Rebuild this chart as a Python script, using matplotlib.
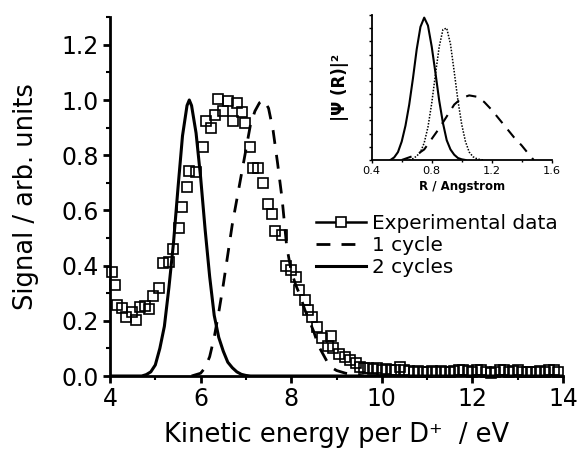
import matplotlib.pyplot as plt
from matplotlib.lines import Line2D
from matplotlib.ticker import MultipleLocator

# measured D+ kinetic energy spectrum
exp_energy = [4.04, 4.11, 4.15, 4.27, 4.35, 4.48, 4.57, 4.66, 4.77, 4.87,
              4.96, 5.08, 5.16, 5.31, 5.38, 5.53, 5.60, 5.69, 5.75, 5.89,
              6.05, 6.12, 6.22, 6.31, 6.39, 6.50, 6.61, 6.71, 6.81, 6.91,
              6.99, 7.10, 7.15, 7.27, 7.38, 7.48, 7.58, 7.64, 7.79, 7.89,
              7.99, 8.11, 8.18, 8.30, 8.38, 8.47, 8.56, 8.69, 8.82, 8.87,
              8.93, 9.06, 9.19, 9.30, 9.42, 9.52, 9.6, 9.7, 9.8, 9.9,
              10.0, 10.1, 10.2, 10.3, 10.4, 10.5, 10.6, 10.7, 10.8, 10.9,
              11.0, 11.1, 11.2, 11.3, 11.4, 11.5, 11.6, 11.7, 11.8, 11.9,
              12.0, 12.1, 12.2, 12.3, 12.4, 12.5, 12.6, 12.7, 12.8, 12.9,
              13.0, 13.1, 13.2, 13.3, 13.4, 13.5, 13.6, 13.7, 13.8, 13.9]
exp_signal = [0.378, 0.33, 0.257, 0.245, 0.212, 0.233, 0.203, 0.249, 0.255, 0.242,
              0.29, 0.318, 0.408, 0.414, 0.459, 0.535, 0.612, 0.683, 0.744, 0.74,
              0.828, 0.925, 0.897, 0.947, 1.003, 0.96, 0.998, 0.923, 0.99, 0.955,
              0.917, 0.83, 0.752, 0.752, 0.70, 0.625, 0.586, 0.527, 0.51, 0.40,
              0.384, 0.36, 0.31, 0.275, 0.239, 0.212, 0.176, 0.136, 0.109, 0.146,
              0.10, 0.08, 0.07, 0.058, 0.046, 0.034, 0.03, 0.028, 0.025, 0.028,
              0.022, 0.025, 0.02, 0.022, 0.034, 0.02, 0.018, 0.015, 0.018, 0.016,
              0.015, 0.017, 0.015, 0.018, 0.016, 0.014, 0.017, 0.02, 0.022, 0.018,
              0.015, 0.022, 0.02, 0.015, 0.012, 0.015, 0.022, 0.02, 0.015, 0.017,
              0.02, 0.015, 0.013, 0.016, 0.015, 0.018, 0.014, 0.022, 0.02, 0.015]

# simulated spectra
one_energy = [5.8, 5.9, 6.0, 6.1, 6.2, 6.3, 6.4, 6.5, 6.6, 6.7, 6.8, 6.9,
              7.0, 7.1, 7.2, 7.3, 7.4, 7.5, 7.6, 7.7, 7.8, 7.9, 8.0, 8.1,
              8.2, 8.3, 8.4, 8.5, 8.6, 8.7, 8.8, 8.9, 9.0, 9.2, 9.4, 9.6]
one_signal = [0.0, 0.005, 0.01, 0.03, 0.07, 0.14, 0.23, 0.33, 0.44, 0.55, 0.64, 0.73,
              0.82, 0.91, 0.96, 0.99, 1.0, 0.97, 0.89, 0.77, 0.64, 0.47, 0.38, 0.33,
              0.29, 0.24, 0.20, 0.16, 0.11, 0.08, 0.05, 0.03, 0.02, 0.01, 0.005, 0.0]

two_energy = [4.0, 4.7, 4.8, 4.9, 5.0, 5.1, 5.2, 5.3, 5.4, 5.5, 5.6, 5.7, 5.75,
              5.8, 5.9, 6.0, 6.1, 6.2, 6.3, 6.4, 6.5, 6.6, 6.7, 6.8, 6.9,
              7.0, 7.1, 14.0]
two_signal = [0.0, 0.0, 0.005, 0.015, 0.04, 0.10, 0.18, 0.32, 0.48, 0.68, 0.87, 0.98, 1.0,
              0.98, 0.88, 0.72, 0.53, 0.36, 0.22, 0.14, 0.09, 0.05, 0.03, 0.015, 0.006,
              0.002, 0.0, 0.0]

# |Psi(R)|^2 distributions for the inset
r_two = [0.525, 0.55, 0.575, 0.60, 0.625, 0.65, 0.675, 0.70, 0.725, 0.75, 0.775,
         0.80, 0.825, 0.85, 0.875, 0.90, 0.925, 0.95, 0.975, 1.0, 1.025]
psi_two = [0.0, 0.02, 0.06, 0.14, 0.26, 0.42, 0.62, 0.84, 1.01, 1.08, 1.02,
           0.86, 0.66, 0.45, 0.28, 0.15, 0.08, 0.04, 0.015, 0.005, 0.0]

r_dot = [0.65, 0.675, 0.70, 0.725, 0.75, 0.775, 0.80, 0.825, 0.85, 0.875, 0.90,
         0.925, 0.95, 0.975, 1.0, 1.025, 1.05, 1.075, 1.10, 1.125, 1.15]
psi_dot = [0.0, 0.01, 0.03, 0.06, 0.13, 0.25, 0.43, 0.65, 0.86, 0.99, 1.0,
           0.88, 0.67, 0.45, 0.27, 0.14, 0.06, 0.025, 0.01, 0.003, 0.0]

r_one = [0.60, 0.65, 0.70, 0.75, 0.80, 0.85, 0.90, 0.95, 1.00, 1.05, 1.10,
         1.15, 1.20, 1.25, 1.30, 1.35, 1.40, 1.45, 1.48]
psi_one = [0.0, 0.02, 0.04, 0.08, 0.16, 0.24, 0.33, 0.42, 0.47, 0.49, 0.48,
           0.44, 0.38, 0.31, 0.24, 0.17, 0.11, 0.04, 0.0]

fig = plt.figure(figsize=(5.83, 4.54), dpi=100)
ax = fig.add_axes([0.1887, 0.1718, 0.777, 0.7903])

ax.plot(two_energy, two_signal, color="black", lw=2.2, zorder=3)
ax.plot(one_energy, one_signal, color="black", lw=2.0, dashes=(5, 4), zorder=3)
ax.plot(exp_energy, exp_signal, ls="none", marker="s", ms=7.5, mfc="none",
        mec="black", mew=1.2, zorder=4, clip_on=False)

ax.set_xlim(4, 14)
ax.set_ylim(0, 1.3)
ax.xaxis.set_major_locator(MultipleLocator(2))
ax.xaxis.set_minor_locator(MultipleLocator(1))
ax.yaxis.set_minor_locator(MultipleLocator(0.1))
ax.set_yticks([0, 0.2, 0.4, 0.6, 0.8, 1.0, 1.2])
ax.set_yticklabels(["0.0", "0.2", "0.4", "0.6", "0.8", "1.0", "1.2"])
for s in ["top", "right"]:
    ax.spines[s].set_visible(False)
for s in ["left", "bottom"]:
    ax.spines[s].set_linewidth(2)
ax.tick_params(which="major", direction="out", length=5, width=2,
               labelsize=17, pad=3)
ax.tick_params(which="minor", direction="out", length=3, width=1.5)
ax.set_xlabel("Kinetic energy per D\u207a  / eV", fontsize=18.5, labelpad=8)
ax.set_ylabel("Signal / arb. units", fontsize=18.5, labelpad=16)

handles = [
    Line2D([], [], color="black", lw=1.8, marker="s", ms=7.5, mfc="white",
           mec="black", mew=1.2),
    Line2D([], [], color="black", lw=2.0, dashes=(5, 4)),
    Line2D([], [], color="black", lw=2.2),
]
ax.legend(handles, ["Experimental data", "1 cycle", "2 cycles"],
          loc="upper left", bbox_to_anchor=(0.455, 0.451), frameon=False,
          fontsize=14.4, handlelength=2.5, handletextpad=0.3,
          labelspacing=0.15, borderpad=0, borderaxespad=0)

# inset: nuclear wavepacket distributions
ins = fig.add_axes([0.6376, 0.6476, 0.3087, 0.3194])
ins.plot(r_two, psi_two, color="black", lw=1.5)
ins.plot(r_dot, psi_dot, color="black", lw=1.1, ls=(0, (1, 1)))
ins.plot(r_one, psi_one, color="black", lw=1.5, dashes=(5, 4))
ins.set_xlim(0.4, 1.6)
ins.set_ylim(0, 1.1)
ins.set_xticks([0.4, 0.8, 1.2, 1.6])
ins.set_xticklabels(["0.4", "0.8", "1.2", "1.6"])
ins.xaxis.set_minor_locator(MultipleLocator(0.2))
ins.yaxis.set_major_locator(MultipleLocator(0.1))
ins.set_yticklabels([])
ins.patch.set_alpha(0)
for s in ["top", "right"]:
    ins.spines[s].set_visible(False)
for s in ["left", "bottom"]:
    ins.spines[s].set_linewidth(1.3)
ins.tick_params(which="major", direction="out", length=2.5, width=1,
                labelsize=8.2, pad=2)
ins.tick_params(which="minor", direction="out", length=1.5, width=1)
ins.set_xlabel("R / Angstrom", fontsize=8.5, fontweight="bold", labelpad=3)
ins.set_ylabel("|\u03a8 (R)|\u00b2", fontsize=12, fontweight="bold",
               labelpad=12)

fig.savefig("out.png", dpi=100)
